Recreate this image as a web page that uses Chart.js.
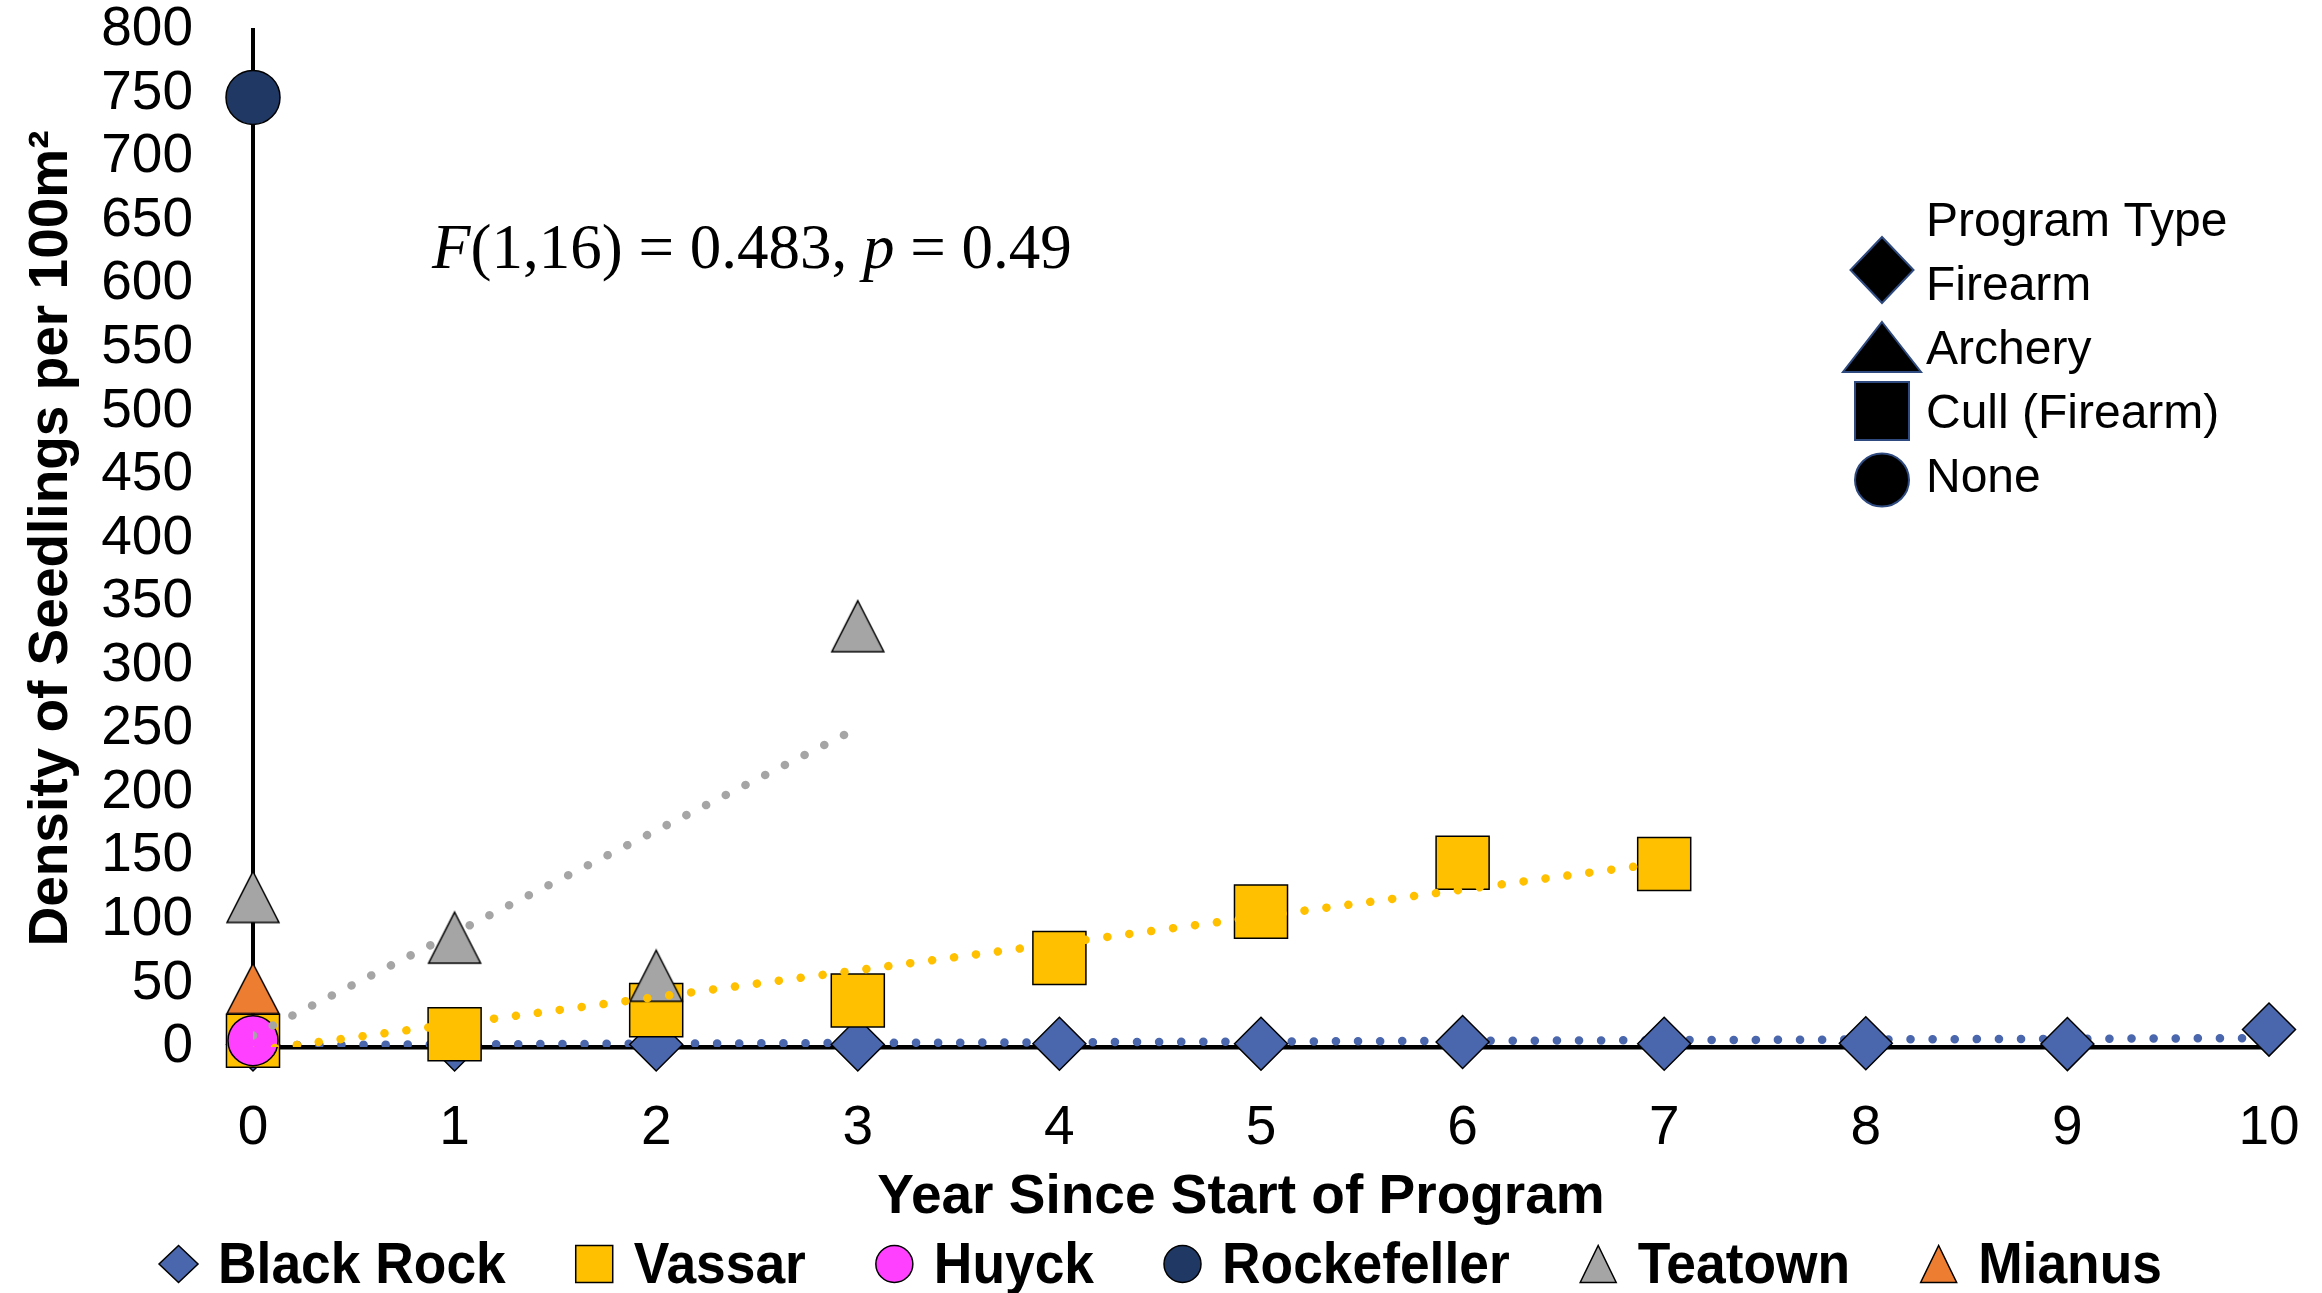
<!DOCTYPE html>
<html>
<head>
<meta charset="utf-8">
<script src="https://cdn.jsdelivr.net/npm/chart.js@4.4.1/dist/chart.umd.min.js"></script>
<style>
  html, body { margin: 0; padding: 0; background: #fff; }
  #wrap { width: 2322px; height: 1293px; }
</style>
</head>
<body>
<div id="wrap"><canvas id="seedChart" width="2322" height="1293"></canvas></div>
<script>
// values
const years = [0, 1, 2, 3, 4, 5, 6, 7, 8, 9, 10];
const blackRock = [2, 2, 2, 2, 2.6, 2.6, 3.9, 2.6, 3, 2.3, 13.7];
const vassarYears = [0, 1, 2, 3, 4, 5, 6, 7];
const vassar = [5, 10, 29, 36.5, 70, 106.5, 145, 144];
const huyckYears = [0];
const huyck = [5];
const rockefellerYears = [0];
const rockefeller = [747];
const teatownYears = [0, 1, 2, 3];
const teatown = [118, 86, 56, 331];
const mianusYears = [0];
const mianus = [46];

// dotted trendlines: start and end
const trendBlackRockX = [0, 10];
const trendBlackRockY = [1.5, 7];
const trendVassarX = [0, 7];
const trendVassarY = [-3, 145];
const trendTeatownX = [0, 3];
const trendTeatownY = [9, 251];

const siteNames = ["Black Rock", "Vassar", "Huyck", "Rockefeller", "Teatown", "Mianus"];
const siteColors = ["#4A66AC", "#FFC000", "#FF40FF", "#203864", "#A5A5A5", "#ED7D31"];
const siteShapes = ["diamond", "square", "circle", "circle", "triangle", "triangle"];
const programTypes = ["Firearm", "Archery", "Cull (Firearm)", "None"];
const programShapes = ["diamond", "triangle", "square", "circle"];
const statText = [["F", true], ["(1,16) = 0.483, ", false], ["p", true], [" = 0.49", false]];
const xTitle = "Year Since Start of Program";
const yTitle = "Density of Seedlings per 100m²";

const pts = (xs, ys) => xs.map((x, i) => ({ x: x, y: ys[i] }));

const triangleMarker = (color, w, h) => {
  const c = document.createElement("canvas");
  c.width = w + 4;
  c.height = h + 4;
  const g = c.getContext("2d");
  g.beginPath();
  g.moveTo(c.width / 2, 2);
  g.lineTo(w + 2, h + 2);
  g.lineTo(2, h + 2);
  g.closePath();
  g.fillStyle = color;
  g.fill();
  g.lineWidth = 1.5;
  g.strokeStyle = "#000";
  g.stroke();
  return c;
};

const drawShape = (ctx, shape, cx, cy, w, h, fill, stroke, lw) => {
  ctx.beginPath();
  if (shape === "diamond") {
    ctx.moveTo(cx, cy - h / 2);
    ctx.lineTo(cx + w / 2, cy);
    ctx.lineTo(cx, cy + h / 2);
    ctx.lineTo(cx - w / 2, cy);
    ctx.closePath();
  } else if (shape === "triangle") {
    ctx.moveTo(cx, cy - h / 2);
    ctx.lineTo(cx + w / 2, cy + h / 2);
    ctx.lineTo(cx - w / 2, cy + h / 2);
    ctx.closePath();
  } else if (shape === "square") {
    ctx.rect(cx - w / 2, cy - h / 2, w, h);
  } else {
    ctx.ellipse(cx, cy, w / 2, h / 2, 0, 0, Math.PI * 2);
  }
  ctx.fillStyle = fill;
  ctx.fill();
  ctx.lineWidth = lw;
  ctx.strokeStyle = stroke;
  ctx.stroke();
};

const overlay = {
  id: "overlay",
  afterDraw(chart) {
    const ctx = chart.ctx;
    ctx.save();
    ctx.fillStyle = "#000";
    ctx.textBaseline = "alphabetic";
    ctx.textAlign = "left";

    // regression result
    let x = 432;
    statText.forEach(([t, italic]) => {
      ctx.font = (italic ? "italic " : "") + "63px 'Liberation Serif'";
      ctx.fillStyle = "#000";
      ctx.fillText(t, x, 268);
      x += ctx.measureText(t).width;
    });

    // x axis title (sits a bit left of the plot centre in the original)
    ctx.font = "bold 55px 'Liberation Sans'";
    ctx.textAlign = "center";
    ctx.fillText(xTitle, 1241, 1213);
    ctx.textAlign = "left";

    // program type key
    ctx.font = "48px 'Liberation Sans'";
    ctx.fillStyle = "#000";
    ctx.fillText("Program Type", 1926, 236);
    const keySizes = [[63, 66, -30], [78, 50, -17], [54, 58, -17], [54, 53, -12]];
    programTypes.forEach((t, i) => {
      const base = 236 + 64 * (i + 1);
      const [w, h, dy] = keySizes[i];
      drawShape(ctx, programShapes[i], 1882, base + dy, w, h, "#000", "#2E4A7F", 2);
      ctx.fillStyle = "#000";
      ctx.fillText(t, 1926, base);
    });

    // site legend along the bottom
    ctx.font = "bold 58px 'Liberation Sans'";
    const sx = 0.92, box = 37, gap = 21, pad = 70;
    const widths = siteNames.map(n => ctx.measureText(n).width * sx);
    const total = widths.reduce((a, w) => a + w + box + gap, 0) + pad * (siteNames.length - 1);
    let lx = chart.width / 2 - total / 2;
    siteNames.forEach((n, i) => {
      const dims = siteShapes[i] === "diamond" ? [39, 37] : siteShapes[i] === "triangle" ? [36, 37] : [37, 37];
      drawShape(ctx, siteShapes[i], lx + box / 2, 1264, dims[0], dims[1], siteColors[i], "#000", 1.5);
      ctx.save();
      ctx.translate(lx + box + gap, 1283);
      ctx.scale(sx, 1);
      ctx.fillStyle = "#000";
      ctx.fillText(n, 0, 0);
      ctx.restore();
      lx += box + gap + widths[i] + pad;
    });
    ctx.restore();
  }
};

const trendStyle = color => ({
  showLine: true,
  pointRadius: 0,
  borderColor: color,
  borderWidth: 8.5,
  borderDash: [0.1, 22],
  borderCapStyle: "round",
  fill: false
});

const tickFont = { family: "Liberation Sans", size: 55, lineHeight: 1.1 };
const titleFont = { family: "Liberation Sans", size: 55, weight: "bold" };

new Chart(document.getElementById("seedChart").getContext("2d"), {
  type: "scatter",
  data: {
    datasets: [
      { label: siteNames[0], data: pts(years, blackRock), pointStyle: "rectRot", pointRadius: 26.5,
        backgroundColor: siteColors[0], borderColor: "#000", borderWidth: 1.5, order: 6, clip: false },
      { label: siteNames[1], data: pts(vassarYears, vassar), pointStyle: "rect", pointRadius: 37.5,
        backgroundColor: siteColors[1], borderColor: "#000", borderWidth: 1.5, order: 5, clip: false },
      { label: siteNames[2], data: pts(huyckYears, huyck), pointStyle: "circle", pointRadius: 25,
        backgroundColor: siteColors[2], borderColor: "#000", borderWidth: 1.5, order: 4, clip: false },
      { label: siteNames[3], data: pts(rockefellerYears, rockefeller), pointStyle: "circle", pointRadius: 27,
        backgroundColor: siteColors[3], borderColor: "#000", borderWidth: 1.5, order: 3, clip: false },
      { label: siteNames[4], data: pts(teatownYears, teatown), pointStyle: triangleMarker(siteColors[4], 52, 51),
        pointRadius: 26, backgroundColor: siteColors[4], borderColor: "#000", order: 2, clip: false },
      { label: siteNames[5], data: pts(mianusYears, mianus), pointStyle: triangleMarker(siteColors[5], 52, 50),
        pointRadius: 26, backgroundColor: siteColors[5], borderColor: "#000", order: 1, clip: false },
      Object.assign({ label: "Black Rock trend", data: pts(trendBlackRockX, trendBlackRockY), order: 7 }, trendStyle("#4A66AC")),
      Object.assign({ label: "Vassar trend", data: pts(trendVassarX, trendVassarY), order: 0 }, trendStyle("#FFC000")),
      Object.assign({ label: "Teatown trend", data: pts(trendTeatownX, trendTeatownY), order: 0 }, trendStyle("#A5A5A5"))
    ]
  },
  options: {
    responsive: false,
    animation: false,
    devicePixelRatio: 1,
    events: [],
    layout: { autoPadding: false, padding: { left: 0, right: 53, top: 30, bottom: 68 } },
    plugins: {
      legend: { display: false },
      tooltip: { enabled: false }
    },
    scales: {
      x: {
        type: "linear",
        min: 0,
        max: 10,
        ticks: { stepSize: 1, color: "#000", font: tickFont, padding: 52, autoSkip: false, maxRotation: 0 },
        grid: { display: false, drawTicks: false },
        border: { display: true, color: "#000", width: 4.5 },
        afterFit: s => { s.height = 178; s.paddingLeft = 0; s.paddingRight = 0; }
      },
      y: {
        min: 0,
        max: 800,
        ticks: { stepSize: 50, color: "#000", font: tickFont, padding: 60, autoSkip: false },
        grid: { display: false, drawTicks: false },
        border: { display: true, color: "#000", width: 4 },
        title: { display: true, text: yTitle, color: "#000", font: titleFont, padding: { top: 19, bottom: 0 } },
        afterFit: s => { s.width = 253; s.paddingTop = 0; s.paddingBottom = 0; }
      }
    }
  },
  plugins: [overlay]
});
</script>
</body>
</html>
